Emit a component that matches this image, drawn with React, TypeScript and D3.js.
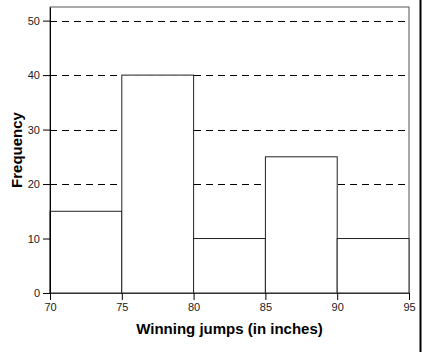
import { useEffect, useRef } from "react"
import * as d3 from "d3"

// histogram bins: jump ranges and counts
const binStarts = [70, 75, 80, 85, 90]
const binWidth = 5
const counts = [15, 40, 10, 25, 10]
const xTicks = [70, 75, 80, 85, 90, 95]
const yTicks = [0, 10, 20, 30, 40, 50]
const gridLines = [10, 20, 30, 40, 50]

export default function App() {
  const svgRef = useRef<SVGSVGElement>(null)

  useEffect(() => {
    if (!svgRef.current) return
    const svg = d3.select(svgRef.current)
    svg.selectAll("*").remove()

    const W = 422
    const H = 352
    const margin = { top: 7, right: 13, bottom: 59, left: 50 }
    const width = W - margin.left - margin.right
    const height = H - margin.top - margin.bottom

    const x = d3.scaleLinear().domain([70, 95]).range([0, width])
    const y = d3.scaleLinear().domain([0, 52.5]).range([height, 0])

    const g = svg.append("g").attr("transform", `translate(${margin.left},${margin.top})`)

    // frame around the plot
    g.append("rect")
      .attr("x", 0)
      .attr("y", 0)
      .attr("width", width)
      .attr("height", height)
      .attr("fill", "white")
      .attr("stroke", "#555")
      .attr("stroke-width", 1)

    // dashed gridlines
    g.selectAll(".grid")
      .data(gridLines)
      .enter()
      .append("line")
      .attr("x1", 0)
      .attr("x2", width)
      .attr("y1", (d) => Math.round(y(d)) + 0.5)
      .attr("y2", (d) => Math.round(y(d)) + 0.5)
      .attr("stroke", "#000")
      .attr("stroke-dasharray", "7,5")

    // bars
    g.selectAll(".bar")
      .data(binStarts)
      .enter()
      .append("rect")
      .attr("x", (d) => x(d))
      .attr("y", (d, i) => y(counts[i]))
      .attr("width", (d) => x(d + binWidth) - x(d))
      .attr("height", (d, i) => height - y(counts[i]))
      .attr("fill", "white")
      .attr("stroke", "#222")
      .attr("stroke-width", 1)

    // axes
    const yAxis = g.append("g").call(d3.axisLeft(y).tickValues(yTicks).tickSize(7).tickSizeOuter(0))
    yAxis.select(".domain").attr("stroke", "#000")
    const xAxis = g
      .append("g")
      .attr("transform", `translate(0,${height})`)
      .call(d3.axisBottom(x).tickValues(xTicks).tickSize(7).tickSizeOuter(0))
    xAxis.select(".domain").attr("stroke", "#333")

    svg.selectAll(".tick text")
      .attr("font-family", "Arial, 'Liberation Sans', sans-serif")
      .attr("font-size", 11)
      .attr("fill", "#222")
    yAxis.selectAll(".tick text").attr("x", -10)
    xAxis.selectAll(".tick text").attr("y", 10)

    // axis titles
    svg.append("text")
      .attr("x", margin.left + width / 2)
      .attr("y", 334)
      .attr("text-anchor", "middle")
      .attr("font-family", "Arial, 'Liberation Sans', sans-serif")
      .attr("font-weight", "bold")
      .attr("font-size", 15)
      .text("Winning jumps (in inches)")

    svg.append("text")
      .attr("transform", `translate(22,${margin.top + height / 2}) rotate(-90)`)
      .attr("text-anchor", "middle")
      .attr("font-family", "Arial, 'Liberation Sans', sans-serif")
      .attr("font-weight", "bold")
      .attr("font-size", 15)
      .text("Frequency")

    // image border on the right
    svg.append("line")
      .attr("x1", 420.5)
      .attr("x2", 420.5)
      .attr("y1", 0)
      .attr("y2", H)
      .attr("stroke", "#000")
      .attr("stroke-width", 2)
  }, [])

  return (
    <div style={{ position: "absolute", left: 0, top: 0 }}>
      <svg ref={svgRef} width={422} height={352} style={{ display: "block", background: "white" }} />
    </div>
  )
}
